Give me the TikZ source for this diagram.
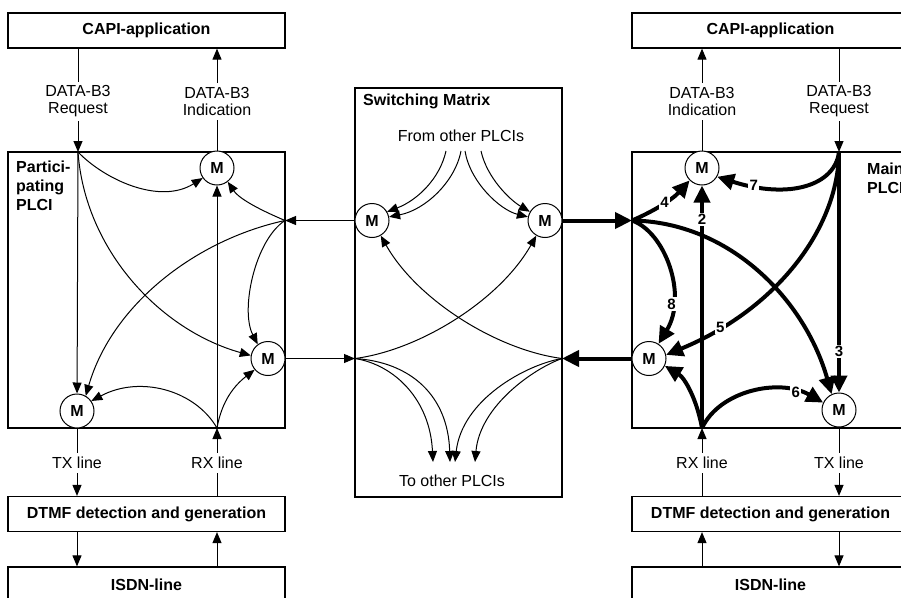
\documentclass[tikz,border=0pt]{standalone}
\usepackage{fontspec}
\setmainfont{Liberation Sans}
\usetikzlibrary{arrows.meta}
\begin{document}
\begin{tikzpicture}[x=1pt, y=-1pt,
  txt/.style={font=\fontsize{16}{17}\selectfont, inner sep=0pt},
  btxt/.style={font=\bfseries\fontsize{16}{19}\selectfont, inner sep=0pt, align=left},
  block/.style={draw, line width=1.2pt, minimum width=277pt, minimum height=35pt, inner sep=0pt, font=\bfseries\fontsize{16}{17}\selectfont},
  panel/.style={draw, line width=1.2pt, inner sep=0pt},
  mux/.style={circle, draw, line width=1pt, minimum size=34pt, inner sep=0pt, fill=white, font=\bfseries\fontsize{16}{17}\selectfont},
  wire/.style={line width=1pt},
  sig/.style={line width=1pt, -{Triangle[length=11pt,width=9pt]}},
  bus/.style={line width=4pt, -{Triangle[length=17pt,width=16pt]}},
  num/.style={fill=white, inner sep=1.5pt, font=\bfseries\fontsize{15}{16}\selectfont},
  lbl/.style={font=\fontsize{16}{17}\selectfont, align=center, inner xsep=2pt, inner ysep=4pt, fill=white},
]
\useasboundingbox (0,0) rectangle (901,597);
\clip (0,0) rectangle (901,597);

% ---------- left side: participating PLCI ----------
\node[block] (capiL) at (146.5,30.5) {CAPI-application};
\node[panel, minimum width=277pt, minimum height=276pt] (plciL) at (146.5,290) {};
\node[block] (dtmfL) at (146.5,514) {DTMF detection and generation};
\node[block] (isdnL) at (146.5,584.5) {ISDN-line};
\node[btxt, anchor=north west] (plciLtxt) at (16,161) {Partici-\\pating\\PLCI};

\node[mux] (mL1) at (217,168) {M};
\node[mux] (mL2) at (268,358.5) {M};
\node[mux] (mL3) at (77,411) {M};
\coordinate (jReqL) at (78,152);
\coordinate (jInL) at (285,220.5);
\coordinate (jRxL) at (217,428);

% ---------- switching matrix ----------
\node[panel, minimum width=207pt, minimum height=409pt] (swm) at (458.5,292.5) {};
\node[btxt, anchor=north west] (swmtxt) at (363,94) {Switching Matrix};
\node[txt, anchor=base] (fromO) at (461,141) {From other PLCIs};
\node[txt, anchor=base] (toO) at (452,486) {To other PLCIs};
\node[mux] (mS1) at (372,220.5) {M};
\node[mux] (mS2) at (545,220.5) {M};
\coordinate (jSwL) at (355,358.5);
\coordinate (jSwR) at (562,358.5);
\coordinate (f1) at (446,151);
\coordinate (f2) at (461,151);
\coordinate (f3) at (465,151);
\coordinate (f4) at (481,151);
\coordinate (t1) at (433,462);
\coordinate (t2) at (450,462);
\coordinate (t3) at (455,462);
\coordinate (t4) at (475,462);

% ---------- right side: main PLCI ----------
\node[block] (capiR) at (770.5,30.5) {CAPI-application};
\node[panel, minimum width=277pt, minimum height=276pt] (plciR) at (770.5,290) {};
\node[block] (dtmfR) at (770.5,514) {DTMF detection and generation};
\node[block] (isdnR) at (770.5,584.5) {ISDN-line};
\node[btxt, anchor=north west] (plciRtxt) at (867,163) {Main\\PLCI};

\node[mux] (mR1) at (702,168) {M};
\node[mux] (mR2) at (649,358.5) {M};
\node[mux] (mR3) at (839,410) {M};
\coordinate (jInR) at (632,220.5);
\coordinate (jReqR) at (839,152);
\coordinate (jRxR) at (702,428);

% ---------- application interface, left ----------
\node[lbl] (reqL) at (78,101.5) {DATA-B3\\Request};
\draw[wire] (capiL.south -| reqL) -- (reqL);
\draw[sig] (reqL) -- (jReqL);
\node[lbl] (indL) at (217,101.5) {DATA-B3\\Indication};
\draw[wire] (mL1) -- (indL);
\draw[sig] (indL) -- (capiL.south -| indL);

% ---------- line interface, left ----------
\node[lbl] (txL) at (77,463) {TX line};
\draw[wire] (mL3) -- (txL);
\draw[sig] (txL) -- (dtmfL.north -| txL);
\node[lbl] (rxL) at (217,463) {RX line};
\draw[wire] (dtmfL.north -| rxL) -- (rxL);
\draw[sig] (rxL) -- (jRxL);
\draw[sig] (dtmfL.south -| txL) -- (isdnL.north -| txL);
\draw[sig] (isdnL.north -| rxL) -- (dtmfL.south -| rxL);

% ---------- paths inside the participating PLCI ----------
\draw[sig] (jReqL) .. controls (105,180) and (160,205) .. (mL1.215);
\draw[sig] (jReqL) -- (mL3);
\draw[sig] (jReqL) .. controls (85,250) and (160,330) .. (mL2.170);
\draw[sig] (jInL) .. controls (265,212) and (240,200) .. (mL1.-52);
\draw[sig] (jInL) .. controls (255,240) and (240,310) .. (mL2.126);
\draw[sig] (jInL) .. controls (195,240) and (112,305) .. (mL3.60);
\draw[sig] (jRxL) .. controls (195,390) and (140,375) .. (mL3.35);
\draw[sig] (jRxL) .. controls (222,400) and (235,385) .. (mL2.220);
\draw[sig] (jRxL) -- (mL1);
\draw[sig] (mS1) -- (jInL);
\draw[sig] (mL2) -- (jSwL);

% ---------- paths inside the switching matrix ----------
\draw[sig] (f1) .. controls (440,178) and (418,200) .. (mS1.30);
\draw[sig] (f2) .. controls (455,182) and (425,210) .. (mS1.12);
\draw[sig] (f3) .. controls (470,182) and (500,210) .. (mS2.168);
\draw[sig] (f4) .. controls (487,178) and (510,200) .. (mS2.150);
\draw[sig] (jSwL) .. controls (420,350) and (500,300) .. (mS2.240);
\draw[sig] (jSwR) .. controls (497,350) and (417,300) .. (mS1.300);
\draw[sig] (jSwL) .. controls (395,365) and (430,400) .. (t1);
\draw[sig] (jSwL) .. controls (410,362) and (448,395) .. (t2);
\draw[sig] (jSwR) .. controls (525,365) and (462,400) .. (t3);
\draw[sig] (jSwR) .. controls (535,368) and (480,405) .. (t4);

% ---------- links to the main PLCI ----------
\draw[bus] (mS2) -- (jInR);
\draw[bus] (mR2) -- (jSwR);

% ---------- application interface, right ----------
\node[lbl] (indR) at (702,101.5) {DATA-B3\\Indication};
\draw[wire] (mR1) -- (indR);
\draw[sig] (indR) -- (capiR.south -| indR);
\node[lbl] (reqR) at (839,101.5) {DATA-B3\\Request};
\draw[wire] (capiR.south -| reqR) -- (reqR);
\draw[sig] (reqR) -- (jReqR);

% ---------- line interface, right ----------
\node[lbl] (rxR) at (702,463) {RX line};
\draw[wire] (dtmfR.north -| rxR) -- (rxR);
\draw[sig] (rxR) -- (jRxR);
\node[lbl] (txR) at (839,463) {TX line};
\draw[wire] (mR3) -- (txR);
\draw[sig] (txR) -- (dtmfR.north -| txR);
\draw[sig] (isdnR.north -| rxR) -- (dtmfR.south -| rxR);
\draw[sig] (dtmfR.south -| txR) -- (isdnR.north -| txR);

% ---------- numbered paths inside the main PLCI ----------
\draw[bus] (jRxR) -- node[num, pos=0.86] {2} (mR1);
\draw[bus] (jReqR) -- node[num, pos=0.83] {3} (mR3);
\draw[bus] (jInR) .. controls (652,212) and (672,200) .. node[num, pos=0.55] {4} (mR1.225);
\draw[bus] (jReqR) .. controls (838,230) and (775,310) .. node[num, pos=0.82] {5} (mR2.12);
\draw[bus] (jRxR) .. controls (720,390) and (780,378) .. node[num, pos=0.8] {6} (mR3.155);
\draw[bus] (jReqR) .. controls (835,185) and (790,200) .. node[num, pos=0.82] {7} (mR1.-30);
\draw[bus] (jInR) .. controls (665,232) and (688,295) .. node[num, pos=0.74] {8} (mR2.57);
\draw[bus] (jInR) .. controls (730,222) and (805,300) .. (mR3.115);
\draw[bus] (jRxR) .. controls (697,400) and (685,378) .. (mR2.-25);
\end{tikzpicture}
\end{document}
